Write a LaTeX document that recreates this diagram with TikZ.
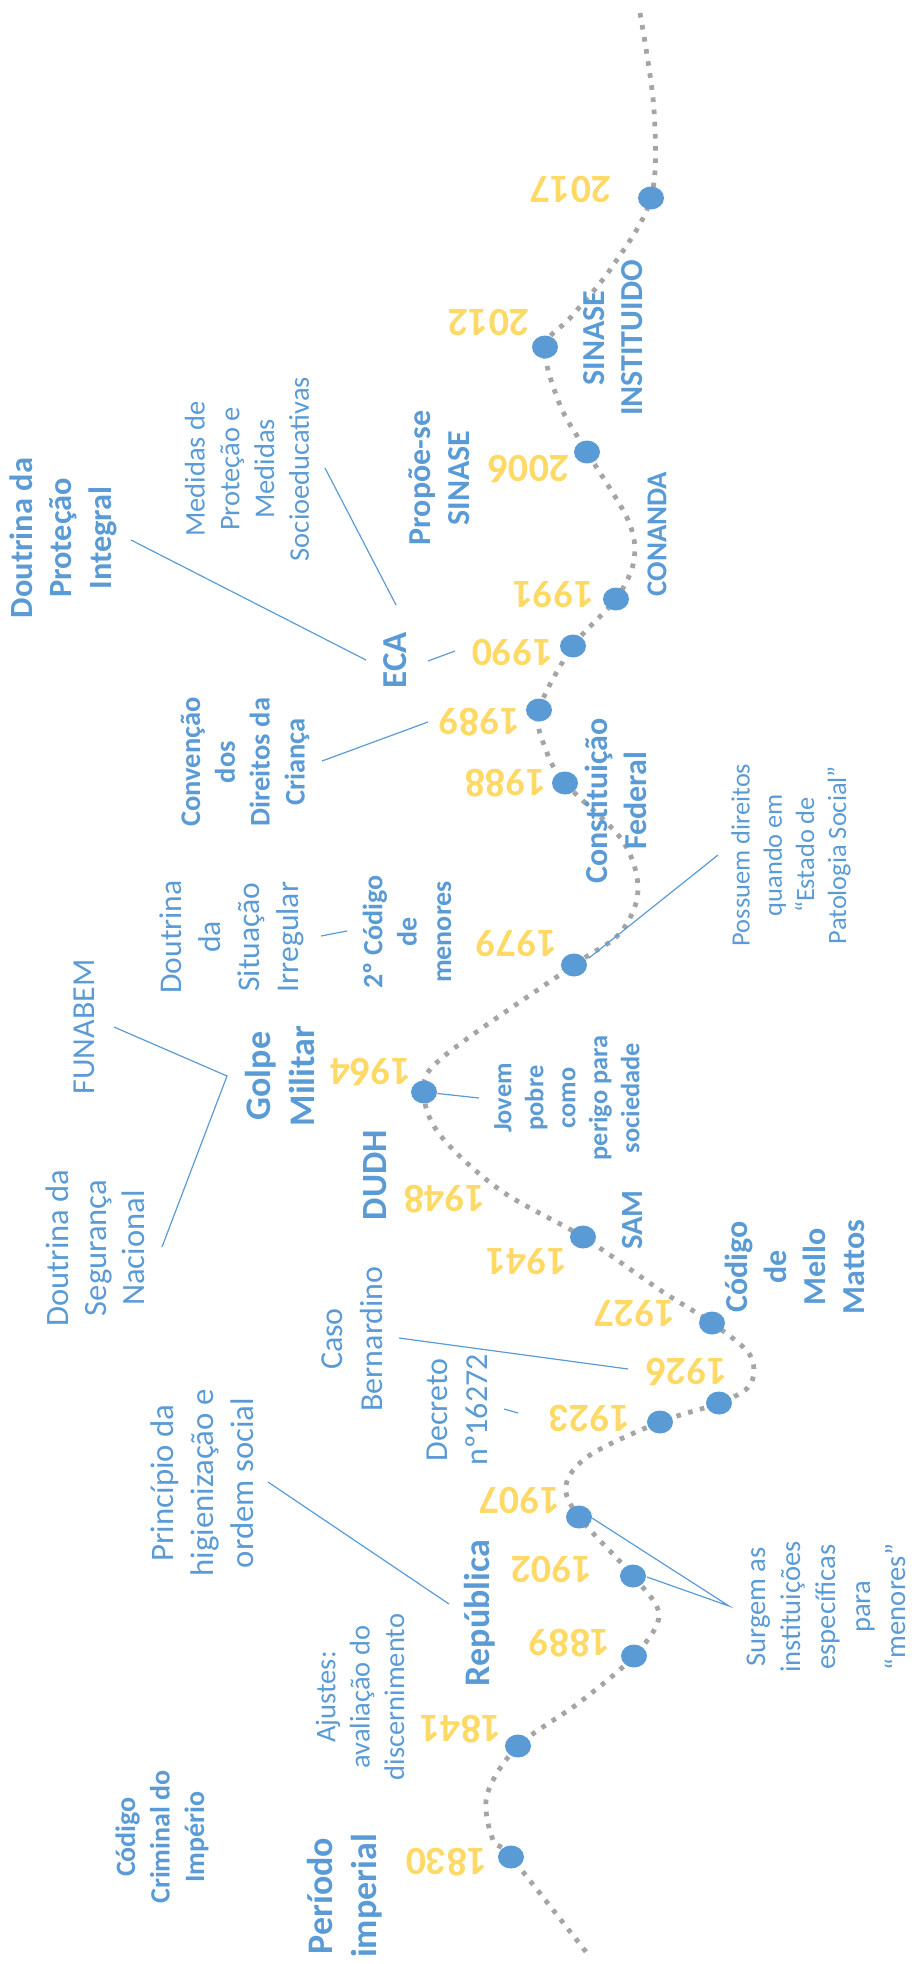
\documentclass[tikz,border=0pt]{standalone}
\usepackage{fontspec}
\setmainfont{Carlito}
\usetikzlibrary{shapes.geometric}
\definecolor{tlblue}{HTML}{5B9BD5}
\definecolor{tlgold}{HTML}{FFD966}
\definecolor{tlgray}{HTML}{A5A5A5}
\tikzset{
  lbl/.style={text=tlblue, rotate=90, align=center, inner sep=0pt},
  yr/.style={text=tlgold, rotate=180, inner sep=0pt, font=\bfseries\fontsize{20}{24}\selectfont},
  tldot/.style={ellipse, fill=tlblue, inner sep=0pt, minimum width=13pt, minimum height=11.5pt},
  conn/.style={draw=tlblue, line width=0.6pt},
  timeline/.style={draw=tlgray, line width=2.4pt, dash pattern=on 2.3pt off 3.8pt}
}
\begin{document}
\begin{tikzpicture}[x=0.5pt, y=-0.5pt]
\useasboundingbox (0,0) rectangle (916,1964);
% timeline points
\coordinate (t0) at (640,13);
\coordinate (t1) at (654,110);
\coordinate (c2017) at (651,198);
\coordinate (t2) at (612,267);
\coordinate (t3) at (571,317);
\coordinate (c2012) at (545,347);
\coordinate (t4) at (560,405);
\coordinate (c2006) at (587,452);
\coordinate (t5) at (628,520);
\coordinate (t6) at (634,560);
\coordinate (c1991) at (616,599);
\coordinate (c1990) at (573,646);
\coordinate (c1989) at (539,710);
\coordinate (t7) at (546,750);
\coordinate (c1988) at (565,783);
\coordinate (t8) at (622,840);
\coordinate (t9) at (638,890);
\coordinate (t10) at (620,933);
\coordinate (c1979) at (574,965);
\coordinate (t11) at (443,1057);
\coordinate (c1964) at (424,1092);
\coordinate (t12) at (440,1135);
\coordinate (t13) at (500,1190);
\coordinate (c1941) at (583,1237);
\coordinate (t14) at (660,1290);
\coordinate (c1927) at (712,1323);
\coordinate (t15) at (750,1355);
\coordinate (t16) at (750,1385);
\coordinate (c1926) at (719,1403);
\coordinate (c1923) at (660,1422);
\coordinate (t17) at (590,1455);
\coordinate (t18) at (566,1485);
\coordinate (c1907) at (579,1517);
\coordinate (c1902) at (633,1576);
\coordinate (t19) at (659,1615);
\coordinate (c1889) at (634,1656);
\coordinate (t20) at (580,1702);
\coordinate (c1841) at (518,1746);
\coordinate (t21) at (487,1795);
\coordinate (t22) at (493,1840);
\coordinate (c1830) at (511,1857);
\coordinate (t23) at (590,1957);
\draw[timeline] plot[smooth, tension=0.55] coordinates {(t0) (t1) (c2017) (t2) (t3) (c2012) (t4) (c2006) (t5) (t6) (c1991) (c1990) (c1989) (t7) (c1988) (t8) (t9) (t10) (c1979) (t11) (c1964) (t12) (t13) (c1941) (t14) (c1927) (t15) (t16) (c1926) (c1923) (t17) (t18) (c1907) (c1902) (t19) (c1889) (t20) (c1841) (t21) (t22) (c1830) (t23)};
% dots
\foreach \y in {2017,2012,2006,1991,1990,1989,1988,1979,1964,1941,1927,1926,1923,1907,1902,1889,1841,1830}
  \node[tldot] (d\y) at (c\y) {};
% years
\node[yr] (y2017) at (571,189) {2017};
\node[yr] (y2012) at (489,322) {2012};
\node[yr] (y2006) at (529,469) {2006};
\node[yr] (y1991) at (554,595) {1991};
\node[yr] (y1990) at (513,652) {1990};
\node[yr] (y1989) at (480,722) {1989};
\node[yr] (y1988) at (506,783) {1988};
\node[yr] (y1979) at (517,944) {1979};
\node[yr] (y1964) at (371,1072) {1964};
\node[yr] (y1948) at (445,1199) {1948};
\node[yr] (y1941) at (527,1262) {1941};
\node[yr] (y1927) at (635,1314) {1927};
\node[yr] (y1926) at (687,1372) {1926};
\node[yr] (y1923) at (590,1418) {1923};
\node[yr] (y1907) at (520,1500) {1907};
\node[yr] (y1902) at (552,1569) {1902};
\node[yr] (y1889) at (570,1643) {1889};
\node[yr] (y1841) at (461,1729) {1841};
\node[yr] (y1830) at (447,1862) {1830};
% labels
\node[lbl, font=\bfseries\fontsize{16.2}{19.8}\selectfont] (dpi) at (63,538) {Doutrina da\\Proteção\\Integral};
\node[lbl, font=\fontsize{14.25}{17.4}\selectfont] (med) at (247,469) {Medidas de\\Proteção e\\Medidas\\Socioeducativas};
\node[lbl, font=\bfseries\fontsize{16}{19.5}\selectfont] (prop) at (439,478) {Propõe-se\\SINASE};
\node[lbl, font=\bfseries\fontsize{16}{19}\selectfont] (sinst) at (613,338) {SINASE\\INSTITUIDO};
\node[lbl, font=\bfseries\fontsize{14.4}{17.5}\selectfont] (conanda) at (657,534) {CONANDA};
\node[lbl, font=\bfseries\fontsize{17.5}{21}\selectfont] (eca) at (395,660) {ECA};
\node[lbl, font=\bfseries\fontsize{14.25}{17.4}\selectfont] (conv) at (245,762) {Convenção\\dos\\Direitos da\\Criança};
\node[lbl, font=\bfseries\fontsize{16}{19.3}\selectfont] (const) at (616,801) {Constituição\\Federal};
\node[lbl, font=\fontsize{13.2}{16.1}\selectfont] (poss) at (791,855) {Possuem direitos\\quando em\\“Estado de\\Patologia Social”};
\node[lbl, font=\fontsize{15.8}{19.6}\selectfont] (dsi) at (232,937) {Doutrina\\da\\Situação\\Irregular};
\node[lbl, font=\bfseries\fontsize{14}{17.2}\selectfont] (cod2) at (407,932) {2º Código\\de\\menores};
\node[lbl, font=\fontsize{16}{19.5}\selectfont] (funabem) at (84,1027) {FUNABEM};
\node[lbl, font=\bfseries\fontsize{18}{22}\selectfont] (golpe) at (280,1076) {Golpe\\Militar};
\node[lbl, font=\fontsize{16.3}{19}\selectfont] (dsn) at (95,1248) {Doutrina da\\Segurança\\Nacional};
\node[lbl, font=\bfseries\fontsize{13.2}{16}\selectfont] (jovem) at (567,1098) {Jovem\\pobre\\como\\perigo para\\sociedade};
\node[lbl, font=\bfseries\fontsize{17.7}{21}\selectfont] (dudh) at (375,1175) {DUDH};
\node[lbl, font=\bfseries\fontsize{15.4}{18.5}\selectfont] (sam) at (632,1220) {SAM};
\node[lbl, font=\bfseries\fontsize{16}{19.5}\selectfont] (cmm) at (795,1267) {Código\\de\\Mello\\Mattos};
\node[lbl, font=\fontsize{16}{20}\selectfont] (caso) at (352,1339) {Caso\\Bernardino};
\node[lbl, font=\fontsize{16}{20}\selectfont] (decreto) at (457,1410) {Decreto\\nº16272};
\node[lbl, font=\fontsize{16.4}{20}\selectfont] (princ) at (202,1483) {Princípio da\\higienização e\\ordem social};
\node[lbl, font=\bfseries\fontsize{18}{22}\selectfont] (rep) at (480,1613) {República};
\node[lbl, font=\fontsize{14.3}{17.5}\selectfont] (surgem) at (826,1607) {Surgem as\\instituições\\específicas\\para\\“menores”};
\node[lbl, font=\fontsize{14.25}{17.2}\selectfont] (ajustes) at (360,1697) {Ajustes:\\avaliação do\\discernimento};
\node[lbl, font=\bfseries\fontsize{14}{17.2}\selectfont] (ccimp) at (162,1837) {Código\\Criminal do\\Império};
\node[lbl, font=\bfseries\fontsize{18}{22}\selectfont] (periodo) at (345,1896) {Período\\imperial};
% connector end points
\coordinate (k1a) at (131,540);  \coordinate (k1b) at (366,660);
\coordinate (k2a) at (325,468);  \coordinate (k2b) at (396,605);
\coordinate (k3a) at (428,661);  \coordinate (k3b) at (455,651);
\coordinate (k4a) at (322,761);  \coordinate (k4b) at (428,722);
\coordinate (k5a) at (718,855);  \coordinate (k5b) at (589,958);
\coordinate (k6a) at (321,936);  \coordinate (k6b) at (347,931);
\coordinate (k7a) at (114,1027); \coordinate (k7v) at (227,1076); \coordinate (k7b) at (162,1247);
\coordinate (k8b) at (479,1098);
\coordinate (k9a) at (399,1338); \coordinate (k9b) at (628,1369);
\coordinate (k10a) at (504,1409); \coordinate (k10b) at (518,1413);
\coordinate (k11a) at (268,1482); \coordinate (k11b) at (449,1604);
\coordinate (k12a) at (592,1518); \coordinate (k12v) at (729,1606); \coordinate (k12b) at (647,1577);
\draw[conn] (k1a) -- (k1b);
\draw[conn] (k2a) -- (k2b);
\draw[conn] (k3a) -- (k3b);
\draw[conn] (k4a) -- (k4b);
\draw[conn] (k5a) -- (k5b);
\draw[conn] (k6a) -- (k6b);
\draw[conn] (k7a) -- (k7v) -- (k7b);
\draw[conn] (d1964) -- (k8b);
\draw[conn] (k9a) -- (k9b);
\draw[conn] (k10a) -- (k10b);
\draw[conn] (k11a) -- (k11b);
\draw[conn] (k12a) -- (k12v) -- (k12b);
\end{tikzpicture}
\end{document}
